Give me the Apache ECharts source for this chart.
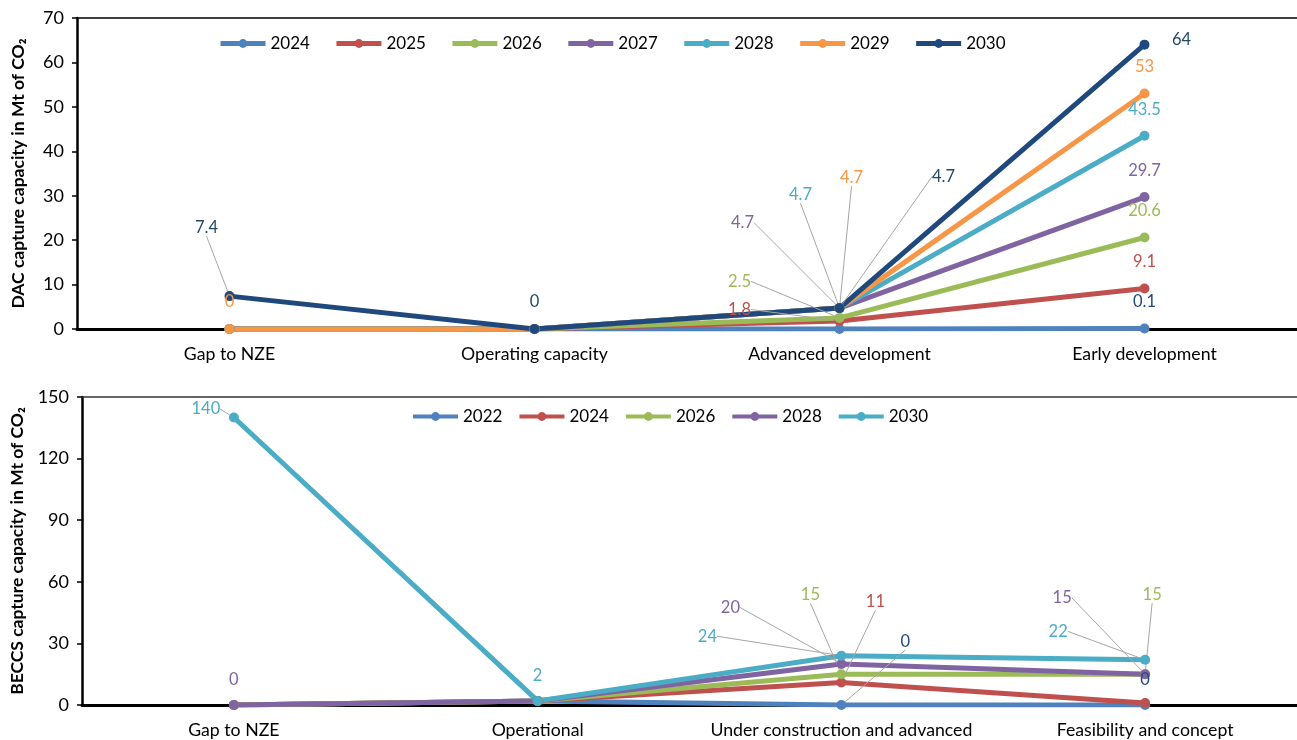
<!DOCTYPE html>
<html>
<head>
<meta charset="utf-8">
<script src="https://cdn.jsdelivr.net/npm/echarts@6/dist/echarts.min.js"></script>
<style>html,body{margin:0;padding:0;background:#fff}#c{width:1297px;height:740px}</style>
</head>
<body>
<div id="c"></div>
<script>
// ---- Data ----
const dacCategories = ['Gap to NZE', 'Operating capacity', 'Advanced development', 'Early development'];
const dacYears = ['2024', '2025', '2026', '2027', '2028', '2029', '2030'];
const dac2024 = [0, 0, 0, 0.1];
const dac2025 = [0, 0, 1.8, 9.1];
const dac2026 = [0, 0, 2.5, 20.6];
const dac2027 = [0, 0, 4.7, 29.7];
const dac2028 = [0, 0, 4.7, 43.5];
const dac2029 = [0, 0, 4.7, 53];
const dac2030 = [7.4, 0, 4.7, 64];
const dacTicks = [0, 10, 20, 30, 40, 50, 60, 70];

const beccsCategories = ['Gap to NZE', 'Operational', 'Under construction and advanced', 'Feasibility and concept'];
const beccsYears = ['2022', '2024', '2026', '2028', '2030'];
const beccs2022 = [0, 2, 0, 0];
const beccs2024 = [0, 2, 11, 1];
const beccs2026 = [0, 2, 15, 15];
const beccs2028 = [0, 2, 20, 15];
const beccs2030 = [140, 2, 24, 22];
const beccsTicks = [0, 30, 60, 90, 120, 150];

// ---- Styling ----
const FONT = 'Lato';
const dacColors = ['#4F81BD', '#C0504D', '#9BBB59', '#8064A2', '#4BACC6', '#F79646', '#1F497D'];
const dacLabelColors = ['#1F497D', '#C0504D', '#9BBB59', '#8064A2', '#4BACC6', '#F79646', '#244B66'];
const beccsColors = ['#4F81BD', '#C0504D', '#9BBB59', '#8064A2', '#4BACC6'];
const beccsLabelColors = ['#1F497D', '#C0504D', '#9BBB59', '#8064A2', '#4BACC6'];

// label placement: [dx, dy, leaderLine]
const dacLabelSpec = {
  0: {3: [0, -8, false]},
  1: {2: [-100, 7, true], 3: [0, -8, false]},
  2: {2: [-100, -18, true], 3: [0, -8, false]},
  3: {2: [-97, -67, true], 3: [0, -8, false]},
  4: {2: [-39, -95, true], 3: [0, -8, false]},
  5: {0: [0, -9, false], 2: [12, -112, true], 3: [0, -8, false]},
  6: {0: [-23, -50, true], 1: [0, -9, false], 2: [104, -113, true], 3: [37, 14, false]}
};
const beccsLabelSpec = {
  0: {2: [64, -45, true], 3: [0, -7, false]},
  1: {2: [34, -62, true]},
  2: {2: [-31, -61, true], 3: [7, -61, true]},
  3: {0: [0, -7, false], 2: [-111, -38, true], 3: [-83, -58, true]},
  4: {0: [-28, 10, true], 1: [0, -7, false], 2: [-134, -1, true], 3: [-87, -10, true]}
};

const dacValues = [dac2024, dac2025, dac2026, dac2027, dac2028, dac2029, dac2030];
const beccsValues = [beccs2022, beccs2024, beccs2026, beccs2028, beccs2030];

function buildSeries(prefix, years, values, colors, labelColors, spec, gridIdx, lw) {
  return years.map((y, i) => ({
    type: 'line',
    name: prefix + ' ' + y,
    xAxisIndex: gridIdx,
    yAxisIndex: gridIdx,
    symbol: 'circle',
    symbolSize: 10,
    showAllSymbol: true,
    animation: false,
    lineStyle: {width: lw, color: colors[i]},
    itemStyle: {color: colors[i]},
    emphasis: {disabled: true},
    label: {show: false, position: 'top', fontFamily: FONT, fontSize: 16.5, color: labelColors[i]},
    labelLine: {show: false, lineStyle: {color: '#A6A6A6', width: 1}},
    labelLayout: function (p) {
      const s = spec[i] && spec[i][p.dataIndex];
      return s ? {dx: s[0], dy: s[1], hideOverlap: false} : {};
    },
    data: values[i].map((v, k) => {
      const s = spec[i] && spec[i][k];
      return s ? {value: v, label: {show: true}, labelLine: {show: s[2]}} : {value: v};
    })
  }));
}

const series = buildSeries('DAC', dacYears, dacValues, dacColors, dacLabelColors, dacLabelSpec, 0, 5)
  .concat(buildSeries('BECCS', beccsYears, beccsValues, beccsColors, beccsLabelColors, beccsLabelSpec, 1, 5));

const axisLabelStyle = {fontFamily: FONT, fontSize: 17.7, color: '#000'};

function yAxis(gridIdx, ticks, title, gap) {
  return {
    type: 'value', gridIndex: gridIdx,
    min: ticks[0], max: ticks[ticks.length - 1], interval: ticks[1] - ticks[0],
    name: title, nameLocation: 'middle', nameGap: gap,
    nameTextStyle: {fontFamily: FONT, fontSize: 17.5, fontWeight: 'bold', color: '#000'},
    axisLine: {show: true, lineStyle: {color: '#000', width: 2.5}},
    axisTick: {show: true, length: 5, lineStyle: {color: '#000', width: 1.5}},
    axisLabel: Object.assign({margin: 13}, axisLabelStyle, {fontSize: 18}),
    splitLine: {show: false}
  };
}

const option = {
  backgroundColor: '#fff',
  animation: false,
  grid: [
    {left: 77, top: 18, width: 1230, height: 311},
    {left: 82, top: 397, width: 1227, height: 308}
  ],
  legend: [
    {
      left: 213, top: 30, itemWidth: 45, itemHeight: 11, itemGap: 24,
      lineStyle: {width: 5},
      data: dacYears.map(y => 'DAC ' + y),
      formatter: n => n.split(' ')[1],
      textStyle: {fontFamily: FONT, fontSize: 17, color: '#000'}
    },
    {
      left: 406, top: 403, itemWidth: 45, itemHeight: 11, itemGap: 15,
      lineStyle: {width: 4},
      data: beccsYears.map(y => 'BECCS ' + y),
      formatter: n => n.split(' ')[1],
      textStyle: {fontFamily: FONT, fontSize: 17, color: '#000'}
    }
  ],
  xAxis: [
    {
      type: 'category', gridIndex: 0, data: dacCategories, boundaryGap: true,
      axisLine: {show: true, lineStyle: {color: '#000', width: 3}},
      axisTick: {show: false},
      axisLabel: Object.assign({margin: 16, interval: 0}, axisLabelStyle)
    },
    {
      type: 'category', gridIndex: 1, data: beccsCategories, boundaryGap: true,
      axisLine: {show: true, lineStyle: {color: '#000', width: 3}},
      axisTick: {show: false},
      axisLabel: Object.assign({margin: 16, interval: 0}, axisLabelStyle)
    },
    {
      type: 'category', gridIndex: 0, position: 'top', data: dacCategories,
      axisLine: {show: true, lineStyle: {color: '#000', width: 1.5}},
      axisTick: {show: false}, axisLabel: {show: false}
    },
    {
      type: 'category', gridIndex: 1, position: 'top', data: beccsCategories,
      axisLine: {show: true, lineStyle: {color: '#333', width: 1.5}},
      axisTick: {show: false}, axisLabel: {show: false}
    }
  ],
  yAxis: [
    yAxis(0, dacTicks, 'DAC capture capacity in Mt of CO\u2082', 50),
    yAxis(1, beccsTicks, 'BECCS capture capacity in Mt of CO\u2082', 52)
  ],
  series: series
};

const chart = echarts.init(document.getElementById('c'), null, {renderer: 'canvas'});
chart.setOption(option);
</script>
</body>
</html>
